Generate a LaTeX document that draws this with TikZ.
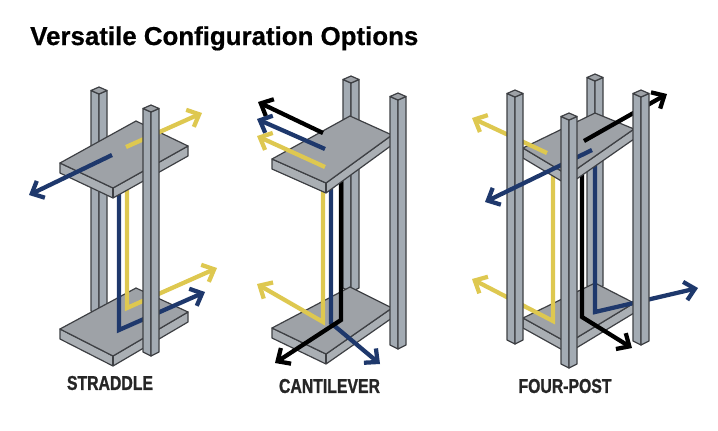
\documentclass[tikz,border=0pt]{standalone}
\usepackage{fontspec}
\usepackage{tikz}
\usetikzlibrary{arrows.meta, calc}
\setmainfont[BoldFeatures={FakeBold=0.6}]{Liberation Sans}
\newfontfamily\capfont[FakeStretch=0.79, BoldFeatures={FakeBold=1.2}]{Liberation Sans}
\definecolor{rackyellow}{RGB}{222, 200, 80}
\definecolor{racknavy}{RGB}{30, 56, 108}
\definecolor{rackface}{RGB}{158, 162, 167}
\definecolor{rackside}{RGB}{170, 175, 180}
\definecolor{rackpost}{RGB}{163, 171, 179}
\definecolor{rackedge}{RGB}{62, 64, 68}
\newcommand{\shelf}[4]{
    \draw[shelfpart, fill=rackside] #1 -- ($#1+(0,10)$) -- ($#4+(0,10)$) -- ($#3+(0,10)$) -- #3 -- #4 -- cycle;
    \draw[shelfpart, fill=rackface] #1 -- #2 -- #3 -- #4 -- cycle;
    \draw[shelfpart] #4 -- ($#4+(0,10)$);
}
\newcommand{\postbar}[3]{
    \draw[shelfpart, fill=rackpost] (#1,#2+3.5) -- (#1+8,#2+7) -- (#1+8,#3) -- (#1,#3-4) -- cycle;
    \draw[shelfpart, fill=rackpost] (#1+16,#2+3.5) -- (#1+8,#2+7) -- (#1+8,#3) -- (#1+16,#3-4) -- cycle;
    \draw[shelfpart, fill=rackface] (#1,#2+3.5) -- (#1+8,#2) -- (#1+16,#2+3.5) -- (#1+8,#2+7) -- cycle;
}
\begin{document}
\begin{tikzpicture}[
    x=0.75pt, y=-0.75pt,
    shelfpart/.style={draw=rackedge, line width=0.9pt, line join=round},
    run/.style={line width=3.2pt, line join=miter, -{Straight Barb[length=7.5pt, width=14pt, line width=3.2pt]}},
    yellowrun/.style={run, draw=rackyellow},
    navyrun/.style={run, draw=racknavy},
    blackrun/.style={run, draw=black},
    caption/.style={font=\capfont\bfseries\fontsize{15}{15}\selectfont, text=black!85, inner sep=0pt}
]

    \useasboundingbox (0,0) rectangle (718,430);

    \node[anchor=base west, inner sep=0pt, font=\bfseries\fontsize{19.4}{21}\selectfont] (title) at (30,45) {Versatile Configuration Options};

    \postbar{91}{87}{315}
    \shelf{(60,329)}{(136,288)}{(188,312)}{(113,356)}
    \draw[yellowrun] (127,180) -- (127,308) -- (217,268);
    \draw[navyrun] (119,180) -- (119,330) -- (205,292);
    \shelf{(60,163)}{(136,121)}{(188,146)}{(113,188)}
    \draw[yellowrun] (126,147) -- (202,113);
    \draw[navyrun] (112,155) -- (29,195);
    \postbar{143}{105}{356}
    \node[caption] (straddle) at (110,383) {STRADDLE};

    \postbar{343}{76}{292}
    \shelf{(272,328)}{(350,287)}{(392,308)}{(326,354)}
    \draw[yellowrun] (323,175) -- (323,322) -- (257,284);
    \draw[navyrun] (331,175) -- (331,323) -- (380,364);
    \draw[blackrun] (341,175) -- (341,320) -- (275,363);
    \shelf{(272,159)}{(350,116)}{(392,135)}{(326,183)}
    \draw[blackrun] (323,133) -- (258,102);
    \draw[navyrun] (325,149) -- (257,119);
    \draw[yellowrun] (325,167) -- (257,136);
    \postbar{390}{93}{349}
    \node[caption] (cantilever) at (329.5,386) {CANTILEVER};

    \postbar{587}{74}{290}
    \shelf{(523,318)}{(595,283)}{(634,303)}{(568,343)}
    \draw[yellowrun] (553,170) -- (553,321) -- (472,279);
    \draw[navyrun] (595,165) -- (595,312) -- (698,288);
    \draw[blackrun] (582,170) -- (582,317) -- (632,348);
    \shelf{(523,148)}{(595,113)}{(634,129)}{(568,175)}
    \draw[yellowrun] (547,153) -- (472,118);
    \draw[blackrun] (584,141) -- (667,94);
    \postbar{507}{90}{344}
    \draw[navyrun] (592,150) -- (485,202);
    \postbar{633}{90}{345}
    \postbar{561}{113}{368}
    \node[caption] (fourpost) at (565,386) {FOUR-POST};

\end{tikzpicture}
\end{document}
